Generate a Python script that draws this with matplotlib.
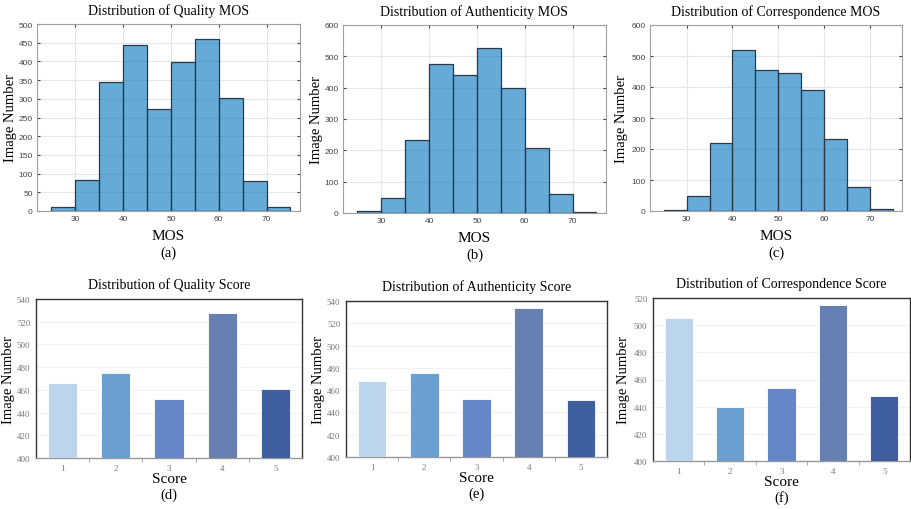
import matplotlib
matplotlib.use("Agg")
import matplotlib.pyplot as plt
import numpy as np

W, H = 912, 510

bin_edges = [25, 30, 35, 40, 45, 50, 55, 60, 65, 70, 75]
quality_mos = [10, 82, 346, 443, 273, 399, 459, 303, 79, 10]
authenticity_mos = [5, 48, 233, 477, 440, 527, 398, 206, 61, 3]
correspondence_mos = [4, 49, 219, 519, 454, 445, 390, 231, 79, 5]

scores = [1, 2, 3, 4, 5]
quality_score = [466, 475, 452, 528, 461]
authenticity_score = [468, 475, 452, 534, 451]
correspondence_score = [505, 440, 454, 515, 448]

bar_colors = ["#BBD6EC", "#6A9FCF", "#6687C7", "#6580B1", "#3F5F9E"]

serif = "Liberation Serif"
sans = "Liberation Sans"

fig = plt.figure(figsize=(W / 100, H / 100), dpi=100)
fig.patch.set_facecolor("white")


def ax_px(l, t, r, b):
    return fig.add_axes([l / W, 1 - b / H, (r - l) / W, (b - t) / H])


def fig_text(x, y, s, size, **kw):
    fig.text(x / W, 1 - y / H, s, ha="center", va="center",
             family=serif, fontsize=size, **kw)


hist_specs = [
    (quality_mos, (37, 25, 300, 212), 500, 50, "Distribution of Quality MOS", "(a)", 11),
    (authenticity_mos, (343, 26, 606, 214), 600, 100, "Distribution of Authenticity MOS", "(b)", 317),
    (correspondence_mos, (650, 26, 902, 212), 600, 100, "Distribution of Correspondence MOS", "(c)", 622),
]

for counts, box, ymax, ystep, title, lab, ylx in hist_specs:
    ax = ax_px(*box)
    lefts = np.array(bin_edges[:-1])
    widths = np.diff(bin_edges)
    ax.bar(lefts, counts, width=widths, align="edge",
           color=(0.0, 0.447, 0.741, 0.6), edgecolor="#2B3A48", linewidth=0.9, zorder=3)
    ax.set_xlim(22, 77)
    ax.set_ylim(0, ymax)
    ax.set_xticks([30, 40, 50, 60, 70])
    ax.set_yticks(np.arange(0, ymax + 1, ystep))
    ax.grid(True, color="#E6E6E6", linewidth=0.8, zorder=0)
    ax.tick_params(labelsize=6, colors="#444444", length=2, direction="in",
                   top=True, right=True, labelcolor="#444444", pad=3)
    for lbl in ax.get_xticklabels() + ax.get_yticklabels():
        lbl.set_family(sans)
    for sp in ax.spines.values():
        sp.set_color("#A0A0A0")
        sp.set_linewidth(0.8)
    l, t, r, b = box
    cx = (l + r) / 2
    fig_text(cx, t - 14, title, 10)
    fig_text(cx, b + 25, "MOS", 11)
    fig_text(cx, b + 41, lab, 10.5)
    fig.text(ylx / W, 1 - ((t + b) / 2) / H, "Image Number", rotation=90,
             ha="center", va="center", family=serif, fontsize=10.5)

bar_specs = [
    (quality_score, (36, 300, 302, 459), 400, 540, "Distribution of Quality Score", "(d)", 9),
    (authenticity_score, (346, 302, 607, 458), 400, 540, "Distribution of Authenticity Score", "(e)", 319),
    (correspondence_score, (653, 299, 910, 462), 400, 520, "Distribution of Correspondence Score", "(f)", 624),
]

for vals, box, ymin, ymax, title, lab, ylx in bar_specs:
    ax = ax_px(*box)
    ax.bar(scores, vals, width=0.55, color=bar_colors, edgecolor="white",
           linewidth=0.6, zorder=3)
    ax.set_xlim(0.5, 5.5)
    ax.set_ylim(ymin, ymax)
    ax.set_xticks(scores)
    ax.set_xticks([1.5, 2.5, 3.5, 4.5], minor=True)
    ax.set_yticks(np.arange(ymin, ymax + 1, 20))
    ax.yaxis.grid(True, color="#F0F0F0", linewidth=0.8, zorder=0)
    ax.tick_params(axis="both", which="major", labelsize=6.5, labelcolor="#777777",
                   length=0, pad=4)
    ax.tick_params(axis="x", which="minor", length=3, color="#999999", direction="out")
    for lbl in ax.get_xticklabels() + ax.get_yticklabels():
        lbl.set_family(serif)
    for name, sp in ax.spines.items():
        sp.set_color("#333333")
        sp.set_linewidth(1.0)
    ax.spines["bottom"].set_color("#999999")
    l, t, r, b = box
    cx = (l + r) / 2
    fig_text(cx, t - 15, title, 10)
    fig_text(cx, b + 21, "Score", 11)
    fig_text(cx, b + 36, lab, 10.5)
    fig.text(ylx / W, 1 - ((t + b) / 2) / H, "Image Number", rotation=90,
             ha="center", va="center", family=serif, fontsize=10.5)

fig.savefig("out.png", dpi=100, facecolor="white")
